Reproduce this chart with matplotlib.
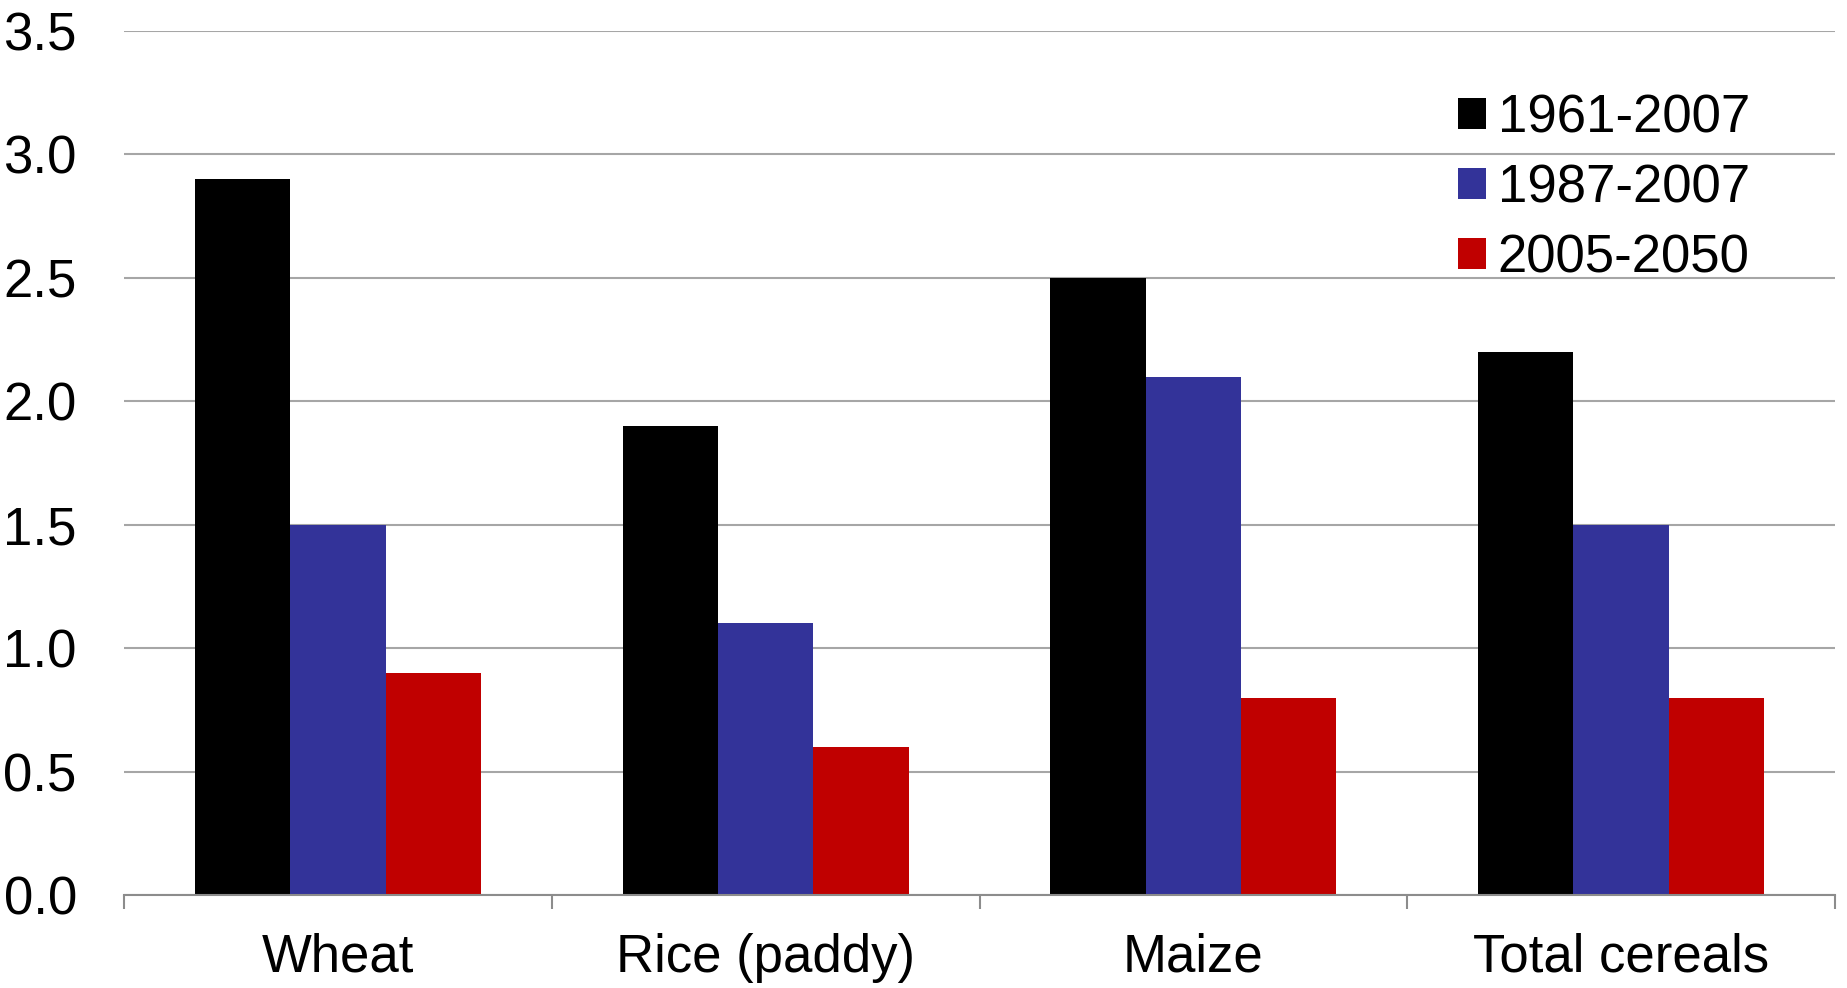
import matplotlib
matplotlib.use("Agg")
import matplotlib.pyplot as plt
import numpy as np

categories = ["Wheat", "Rice (paddy)", "Maize", "Total cereals"]
series_names = ["1961-2007", "1987-2007", "2005-2050"]
v_1961_2007 = [2.9, 1.9, 2.5, 2.2]
v_1987_2007 = [1.5, 1.1, 2.1, 1.5]
v_2005_2050 = [0.9, 0.6, 0.8, 0.8]
colors = ["#000000", "#333399", "#C00000"]
yticks = [0.0, 0.5, 1.0, 1.5, 2.0, 2.5, 3.0, 3.5]

plt.rcParams['font.family'] = ['Liberation Sans', 'DejaVu Sans']
fs = 38

fig = plt.figure(figsize=(18.47, 9.88), dpi=100)
ax = fig.add_axes([124/1847, 1-895/988, (1835-124)/1847, (895-31)/988])

x = np.arange(len(categories))
w = 0.223
for i, (vals, name, c) in enumerate(zip([v_1961_2007, v_1987_2007, v_2005_2050], series_names, colors)):
    ax.bar(x + (i-1)*w, vals, width=w, color=c, label=name, zorder=3, linewidth=0)

ax.set_xlim(-0.5, len(categories)-0.5)
ax.set_ylim(0, 3.5)
ax.set_yticks(yticks)
ax.set_yticklabels([f"{t:.1f}" for t in yticks])
ax.yaxis.grid(True, color="#A6A6A6", linewidth=1.5, zorder=0)
ax.set_axisbelow(True)
for s in ["top", "right", "left"]:
    ax.spines[s].set_visible(False)
ax.spines["bottom"].set_color("#8C8C8C")
ax.spines["bottom"].set_linewidth(1.5)
ax.spines["bottom"].set_zorder(4)

ax.set_xticks(x)
ax.set_xticklabels(categories)
ax.set_xticks(np.arange(-0.5, len(categories)), minor=True)
ax.tick_params(axis="x", which="major", length=0, pad=27, labelsize=fs)
ax.tick_params(axis="x", which="minor", length=10, width=1.5, color="#8C8C8C", direction="out")
ax.tick_params(axis="y", length=0, pad=34, labelsize=fs)

leg = ax.legend(loc="upper left", bbox_to_anchor=(1458/1847, 1-93/988), bbox_transform=fig.transFigure,
                frameon=False, fontsize=fs, handlelength=0.53, handleheight=0.53,
                handletextpad=0.22, labelspacing=0.38, borderpad=0, borderaxespad=0)

fig.savefig("out.png", dpi=100)
